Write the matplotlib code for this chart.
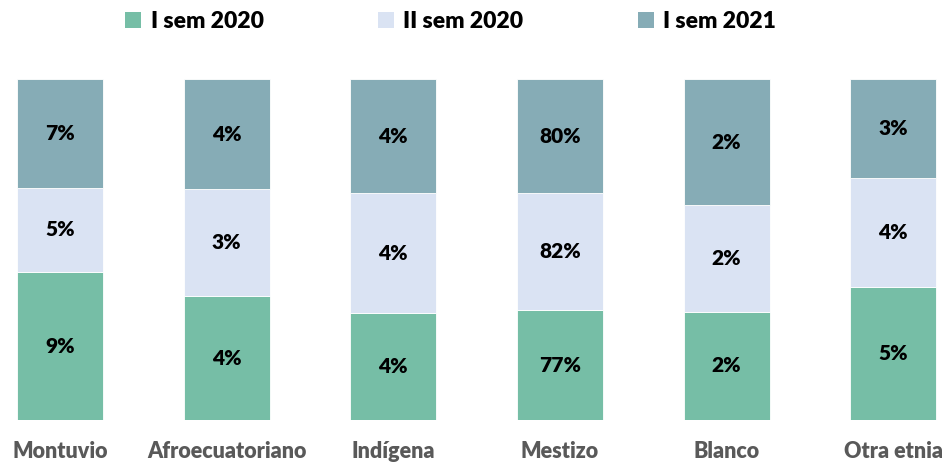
import numpy as np
import matplotlib.pyplot as plt
from matplotlib.patches import Patch

plt.rcParams['font.family'] = ['Lato', 'DejaVu Sans']

categories = ["Montuvio", "Afroecuatoriano", "Indígena", "Mestizo", "Blanco", "Otra etnia"]
series = ["I sem 2020", "II sem 2020", "I sem 2021"]

# raw shares (labels rounded to whole percent)
sem1_2020 = [9.0, 4.0, 3.7, 77.0, 2.0, 4.6]
sem2_2020 = [5.15, 3.45, 4.18, 82.0, 1.97, 3.75]
sem1_2021 = [6.6, 3.55, 3.94, 80.0, 2.32, 3.41]

colors = ["#76BEA6", "#DAE3F3", "#86ACB6"]

vals = np.array([sem1_2020, sem2_2020, sem1_2021])
frac = vals / vals.sum(axis=0)

fig = plt.figure(figsize=(9.45, 4.63), dpi=100)
ax = fig.add_axes([0, 0.0929, 1, 0.7358])

x = np.arange(len(categories))
bottom = np.zeros(len(categories))
for i, name in enumerate(series):
    ax.bar(x, frac[i], 0.516, bottom=bottom, color=colors[i],
           edgecolor="white", linewidth=0.6, label=name)
    for xi, b, h, v in zip(x, bottom, frac[i], vals[i]):
        ax.text(xi, b + h / 2, f"{v:.0f}%", ha="center", va="center",
                fontsize=15, fontweight="heavy", color="black")
    bottom += frac[i]

ax.set_xlim(-0.36, 5.31)
ax.set_ylim(0, 1)
ax.axis("off")

for xi, c in zip(x, categories):
    ax.text(xi, -0.093, c, ha="center", va="center", fontsize=15.5,
            fontweight="heavy", color="#595959")

handles = [Patch(facecolor=c, edgecolor="none") for c in colors]
fig.legend(handles, series, loc="upper center", bbox_to_anchor=(0.477, 1.02),
           ncol=3, frameon=False, handlelength=0.7, handleheight=0.7,
           handletextpad=0.4, columnspacing=5.0,
           prop={"weight": "heavy", "size": 16.5})

fig.savefig("out.png", dpi=100)
